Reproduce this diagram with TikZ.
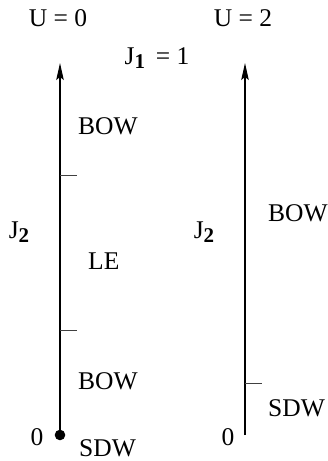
\documentclass[tikz,border=0pt]{standalone}
\usepackage{fontspec}
\setmainfont{Liberation Serif}
\usetikzlibrary{arrows.meta}
\newcommand{\sbold}[1]{\raisebox{-0.35ex}{\fontsize{21}{24}\selectfont\textbf{#1}}}
\begin{document}
\begin{tikzpicture}[x=1pt,y=-1pt,
  lbl/.style={inner sep=0pt,font=\fontsize{25.5}{30}\selectfont},
  axis/.style={line width=1.1pt,-{Stealth[length=17pt,width=7.5pt,inset=3pt]}},
  tick/.style={line width=0.9pt,draw=black!75}]
\useasboundingbox (0,0) rectangle (328,461);

% headings
\node[lbl] (u0) at (58,18) {U = 0};
\node[lbl] (u2) at (243,18) {U = 2};
\node[lbl] (j1) at (157,58) {J\sbold{1}\, = 1};

% left axis (U = 0)
\coordinate (l0) at (60,435);
\coordinate (ltop) at (60,63);
\draw[axis] (l0) -- (ltop);
\coordinate (lt1) at (60,175);
\coordinate (lt1e) at (77,175);
\coordinate (lt2) at (60,330);
\coordinate (lt2e) at (77,330);
\draw[tick] (lt1) -- (lt1e);
\draw[tick] (lt2) -- (lt2e);
\fill (l0) circle (5.3);
\node[lbl] (lzero) at (37,437) {0};
\node[lbl] (lj2) at (19,232) {J\sbold{2}};
\node[lbl,anchor=west] (lbow1) at (78,126) {BOW};
\node[lbl,anchor=west] (lle) at (88,261) {LE};
\node[lbl,anchor=west] (lbow2) at (78,381) {BOW};
\node[lbl,anchor=west] (lsdw) at (79,448) {SDW};

% right axis (U = 2)
\coordinate (r0) at (245,435);
\coordinate (rtop) at (245,63);
\draw[axis] (r0) -- (rtop);
\coordinate (rt1) at (245,383);
\coordinate (rt1e) at (262,383);
\draw[tick] (rt1) -- (rt1e);
\node[lbl] (rzero) at (228,437) {0};
\node[lbl] (rj2) at (204,232) {J\sbold{2}};
\node[lbl,anchor=west] (rbow) at (268,213) {BOW};
\node[lbl,anchor=west] (rsdw) at (268,408) {SDW};
\end{tikzpicture}
\end{document}
